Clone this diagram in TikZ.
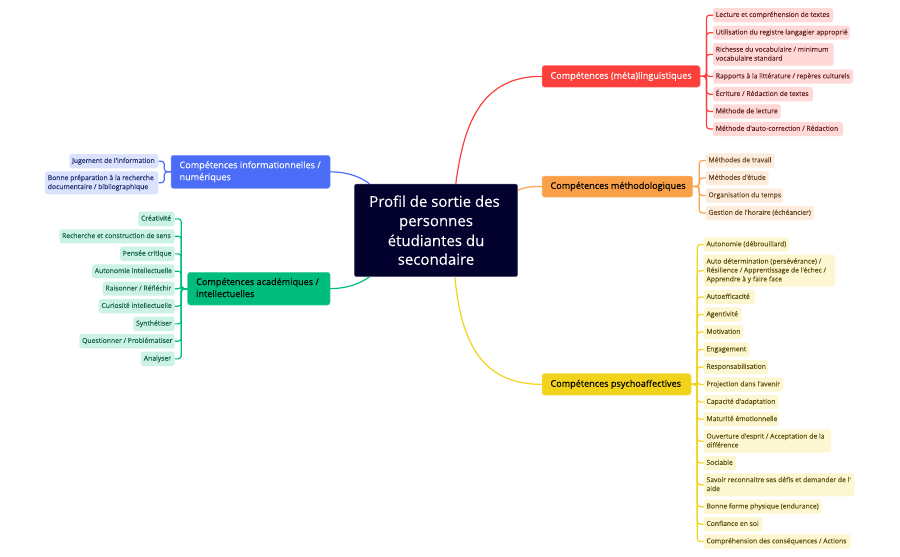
\documentclass[tikz,border=0pt]{standalone}
\usepackage{fontspec}
\setmainfont{Open Sans}[Ligatures=TeXOff,RawFeature={embolden=0.12}]
\definecolor{rM}{HTML}{FB3F3B}\definecolor{rL}{HTML}{FFD9D8}\definecolor{rT}{HTML}{662626}
\definecolor{oM}{HTML}{F9A049}\definecolor{oL}{HTML}{FDECDB}\definecolor{oT}{HTML}{664826}
\definecolor{yM}{HTML}{F2D31B}\definecolor{yL}{HTML}{FCF6D1}\definecolor{yT}{HTML}{5E5210}
\definecolor{bM}{HTML}{4A6CF7}\definecolor{bL}{HTML}{DBE2FD}\definecolor{bT}{HTML}{243270}
\definecolor{gM}{HTML}{00BD7E}\definecolor{gL}{HTML}{CCF2E5}\definecolor{gT}{HTML}{14644A}
\definecolor{cM}{HTML}{03022E}
\newcommand\mmbox[8]{% name,x1,y1,x2,y2,pad,style,text
  \pgfmathsetmacro\mmcx{(#2+#4)/2}\pgfmathsetmacro\mmcy{(#3+#5)/2}
  \pgfmathsetmacro\mmw{#4-#2}\pgfmathsetmacro\mmh{#5-#3}\pgfmathsetmacro\mmt{#4-#2-2*#6}
  \node[#7,minimum width=\mmw pt,minimum height=\mmh pt,inner xsep=#6pt,inner ysep=0pt] (#1) at (\mmcx,\mmcy)
    {\makebox[\mmt pt][l]{\raisebox{-1.2pt}{\begin{tabular}{@{}l@{}}#8\end{tabular}}}};}
\newcommand\mmconn[4]{% colour, main anchor, spine, leaf anchor
  \draw[#1,wire,rounded corners=3pt] (#2) -- (#2 -| #3) -- (#3 |- #4) -- (#4);}
\tikzset{
  wire/.style={line width=1.2pt},
  leafbox/.style={rounded corners=2.5pt,font=\fontsize{6.8}{8.9}\selectfont},
  mainbox/.style={rounded corners=2.5pt,font=\fontsize{9.1}{12}\selectfont},
  rleaf/.style={leafbox,fill=rL,text=rT},
  oleaf/.style={leafbox,fill=oL,text=oT},
  yleaf/.style={leafbox,fill=yL,text=yT},
  bleaf/.style={leafbox,fill=bL,text=bT},
  gleaf/.style={leafbox,fill=gL,text=gT},
  rmain/.style={mainbox,fill=rM,draw=rM!70!white,line width=.5pt,text=white},
  omain/.style={mainbox,fill=oM,draw=oM!70!white,line width=.5pt,text=black},
  ymain/.style={mainbox,fill=yM,draw=yM!70!white,line width=.5pt,text=black},
  bmain/.style={mainbox,fill=bM,draw=bM!70!white,line width=.5pt,text=white},
  gmain/.style={mainbox,fill=gM,draw=gM!70!white,line width=.5pt,text=black},
  rootbox/.style={rounded corners=2.5pt,fill=cM,draw=cM!70!white,line width=.5pt,text=white,align=center,
    font=\fontsize{15}{19.3}\selectfont,inner sep=0pt}
}
\begin{document}
\begin{tikzpicture}[x=1pt,y=-1pt]
\useasboundingbox (0,0) rectangle (900,557);
\pgfmathsetmacro\ccw{517.7-354.3}\pgfmathsetmacro\cch{276.7-184}
\node[rootbox,minimum width=\ccw pt,minimum height=\cch pt] (root) at (436,230.35)
 {\raisebox{.6pt}{\hspace*{-3pt}Profil de sortie des}\\\raisebox{.6pt}{personnes}\\étudiantes du\\\raisebox{.6pt}{secondaire}};
% main
\mmbox{mr}{542}{65.7}{700}{87}{8.5}{rmain}{Compétences (méta)linguistiques}
\mmbox{mo}{542}{176}{692.7}{197}{8.5}{omain}{Compétences méthodologiques}
\mmbox{my}{542}{373.7}{691}{395}{8.5}{ymain}{Compétences psychoaffectives}
\mmbox{mb}{171}{155.3}{330}{188.3}{8.5}{bmain}{Compétences informationnelles /\\numériques}
\mmbox{mg}{187.7}{272.3}{330}{305}{8.5}{gmain}{Compétences académiques /\\intellectuelles}
% red
\mmbox{r1}{713}{8}{833}{22.3}{2.8}{rleaf}{Lecture et compréhension de textes}
\mmbox{r2}{713}{25.7}{849.7}{39.7}{2.8}{rleaf}{Utilisation du registre langagier approprié}
\mmbox{r3}{713}{43}{833.7}{65.7}{2.8}{rleaf}{Richesse du vocabulaire / minimum\\vocabulaire standard}
\mmbox{r4}{713}{69.3}{853}{83.7}{2.8}{rleaf}{Rapports à la littérature / repères culturels}
\mmbox{r5}{713}{87}{813}{101.3}{2.8}{rleaf}{Écriture / Rédaction de textes}
\mmbox{r6}{713}{104.3}{780.7}{118.7}{2.8}{rleaf}{Méthode de lecture}
\mmbox{r7}{713}{122}{843}{136}{2.8}{rleaf}{Méthode d'auto-correction / Rédaction}
% orange
\mmbox{o1}{705.7}{153.3}{774.3}{167.7}{2.8}{oleaf}{Méthodes de travail}
\mmbox{o2}{705.7}{171}{768.7}{185}{2.8}{oleaf}{Méthodes d'étude}
\mmbox{o3}{705.7}{188.3}{783}{202.7}{2.8}{oleaf}{Organisation du temps}
\mmbox{o4}{705.7}{206}{814}{220}{2.8}{oleaf}{Gestion de l'horaire (échéancier)}
% yellow
\mmbox{y1}{703.7}{237.3}{789}{251.7}{2.8}{yleaf}{Autonomie (débrouillard)}
\mmbox{y2}{703.7}{254.7}{835}{286.7}{2.8}{yleaf}{Auto détermination (persévérance) /\\Résilience / Apprentissage de l'échec /\\Apprendre à y faire face}
\mmbox{y3}{703.7}{290}{755}{304}{2.8}{yleaf}{Autoefficacité}
\mmbox{y4}{703.7}{307.3}{741.7}{321.7}{2.8}{yleaf}{Agentivité}
\mmbox{y5}{703.7}{325}{743.3}{339}{2.8}{yleaf}{Motivation}
\mmbox{y6}{703.7}{342.3}{749.7}{356.7}{2.8}{yleaf}{Engagement}
\mmbox{y7}{703.7}{360}{768}{374}{2.8}{yleaf}{Responsabilisation}
\mmbox{y8}{703.7}{377.3}{783}{391.7}{2.8}{yleaf}{Projection dans l'avenir}
\mmbox{y9}{703.7}{395}{778.7}{409}{2.8}{yleaf}{Capacité d'adaptation}
\mmbox{y10}{703.7}{412.3}{778.7}{426.3}{2.8}{yleaf}{Maturité émotionnelle}
\mmbox{y11}{703.7}{429.7}{831}{452.7}{2.8}{yleaf}{Ouverture d'esprit / Acceptation de la\\différence}
\mmbox{y12}{703.7}{456}{736.3}{470}{2.8}{yleaf}{Sociable}
\mmbox{y13}{703.7}{473.3}{854.3}{496.3}{2.8}{yleaf}{Savoir reconnaitre ses défis et demander de l'\\aide}
\mmbox{y14}{703.7}{499.7}{821.7}{513.7}{2.8}{yleaf}{Bonne forme physique (endurance)}
\mmbox{y15}{703.7}{517}{762.7}{531.3}{2.8}{yleaf}{Confiance en soi}
\mmbox{y16}{703.7}{534.3}{850.7}{548.7}{2.8}{yleaf}{Compréhension des conséquences / Actions}
% blue
\mmbox{b1}{69.3}{154}{158.3}{168.3}{2.8}{bleaf}{Jugement de l'information}
\mmbox{b2}{45}{171.3}{158.3}{194.3}{2.8}{bleaf}{Bonne préparation à la recherche\\documentaire / bibliographique}
% green
\mmbox{g1}{138.3}{211.7}{174.7}{226}{2.8}{gleaf}{Créativité}
\mmbox{g2}{59.3}{229.3}{174.7}{243.3}{2.8}{gleaf}{Recherche et construction de sens}
\mmbox{g3}{120}{246.7}{174.7}{261}{2.8}{gleaf}{Pensée critique}
\mmbox{g4}{92}{264.3}{174.7}{278.3}{2.8}{gleaf}{Autonomie intellectuelle}
\mmbox{g5}{102.7}{281.7}{174.7}{295.7}{2.8}{gleaf}{Raisonner / Réfléchir}
\mmbox{g6}{98.7}{299}{174.7}{313.3}{2.8}{gleaf}{Curiosité intellectuelle}
\mmbox{g7}{133.3}{316.7}{174.7}{331}{2.8}{gleaf}{Synthétiser}
\mmbox{g8}{79.3}{334}{174.7}{348.3}{2.8}{gleaf}{Questionner / Problématiser}
\mmbox{g9}{141}{351.7}{174.7}{366}{2.8}{gleaf}{Analyser}
% spines
\coordinate (sr) at (706.5,0);
\coordinate (so) at (699.3,0);
\coordinate (sy) at (697.3,0);
\coordinate (sb) at (164.3,0);
\coordinate (sg) at (181.3,0);
\foreach \i in {1,...,7} {\mmconn{rM}{mr.east}{sr}{r\i.west}}
\foreach \i in {1,...,4} {\mmconn{oM}{mo.east}{so}{o\i.west}}
\foreach \i in {1,...,16} {\mmconn{yM}{my.east}{sy}{y\i.west}}
\foreach \i in {1,2} {\mmconn{bM}{mb.west}{sb}{b\i.east}}
\foreach \i in {1,...,9} {\mmconn{gM}{mg.west}{sg}{g\i.east}}
% root branches
\draw[rM,wire] (root.67.6) .. controls (463,130) and (478,76) .. (mr.west);
\draw[oM,wire] (root.26) .. controls (525,187) and (530,186.5) .. (mo.west);
\draw[yM,wire] (root.292.4) .. controls (461,340) and (480,384.3) .. (my.west);
\draw[bM,wire] (mb.east) .. controls (350,172) and (362,178) .. (root.145);
\draw[gM,wire] (mg.east) .. controls (350,288.5) and (362,282) .. (root.215);
\end{tikzpicture}
\end{document}
